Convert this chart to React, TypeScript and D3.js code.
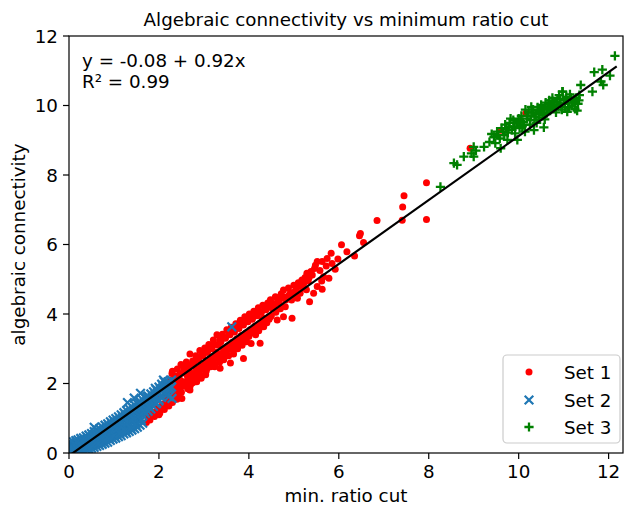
import React from "react";
import * as d3 from "d3";

// ---------- data ----------
const xTicks = [0, 2, 4, 6, 8, 10, 12];
const yTicks = [0, 2, 4, 6, 8, 10, 12];
const fitIntercept = -0.08;
const fitSlope = 0.92;
const fitRange = [0.0, 12.18];
const legendLabels = ["Set 1", "Set 2", "Set 3"];

const set1: [number, number][] = [
  [1.62,1.25],[1.70,1.10],[1.75,1.45],[1.82,1.20],[1.85,1.55],[1.90,1.05],[1.95,1.70],[1.98,1.30],[2.02,1.15],[2.05,1.85],
  [2.08,1.40],[2.12,1.25],[2.15,1.95],[2.18,1.60],[2.22,1.35],[2.25,2.10],[2.28,1.75],[2.29,2.29],[2.37,1.62],[2.35,2.20],
  [1.72,0.88],[1.78,1.05],[1.86,1.12],[1.94,1.18],[2.05,1.28],[2.15,1.45],[2.25,1.50],[2.18,1.38],[1.80,0.95],[2.00,1.10],
  [2.30,1.45],[2.40,1.55],
  [2.30,2.35],[2.33,2.12],[2.28,1.90],[2.34,1.75],[2.31,1.60],
  [2.41,2.42],[2.38,2.20],[2.43,2.00],[2.40,1.82],[2.44,1.66],
  [2.49,2.55],[2.52,2.30],[2.47,2.10],[2.53,1.92],[2.50,1.75],[2.51,1.57],
  [2.61,2.62],[2.58,2.40],[2.63,2.22],[2.60,2.02],[2.64,1.85],
  [2.69,2.85],[2.72,2.55],[2.68,2.35],[2.73,2.15],[2.70,1.95],[2.69,1.81],
  [2.82,2.80],[2.78,2.60],[2.83,2.42],[2.80,2.25],[2.84,2.05],
  [2.91,2.95],[2.88,2.70],[2.93,2.50],[2.90,2.30],[2.94,2.15],
  [3.02,3.02],[2.98,2.80],[3.03,2.60],[3.00,2.42],[3.04,2.25],
  [3.11,3.12],[3.08,2.90],[3.13,2.70],[3.10,2.52],[3.07,2.44],
  [3.21,3.25],[3.18,3.00],[3.23,2.80],[3.20,2.62],[3.24,2.48],
  [3.29,3.40],[3.32,3.10],[3.28,2.90],[3.33,2.72],[3.36,2.44],
  [3.41,3.42],[3.38,3.20],[3.43,3.00],[3.40,2.82],[3.44,2.68],
  [3.51,3.55],[3.48,3.30],[3.53,3.08],[3.50,2.90],[3.59,2.59],
  [3.61,3.62],[3.58,3.40],[3.63,3.18],[3.60,3.00],[3.66,2.85],
  [3.71,3.72],[3.68,3.48],[3.73,3.28],[3.70,3.10],
  [3.81,3.82],[3.78,3.58],[3.83,3.38],[3.81,3.15],[3.88,2.72],
  [3.91,3.92],[3.88,3.68],[3.93,3.45],[3.90,3.28],
  [4.01,4.00],[3.98,3.78],[4.03,3.55],[4.00,3.35],[4.05,3.15],
  [4.11,4.08],[4.08,3.85],[4.13,3.65],[4.10,3.48],
  [4.21,4.18],[4.18,3.95],[4.23,3.72],[4.25,3.16],[4.22,3.52],
  [4.31,4.25],[4.28,4.05],[4.33,3.63],[4.30,3.85],
  [4.42,4.32],[4.38,4.12],[4.44,3.92],[4.40,3.75],
  [4.48,4.41],[4.52,4.16],[4.50,3.95],
  [2.35,1.98],[2.45,2.25],[2.45,1.88],[2.55,2.45],[2.55,2.05],[2.65,2.50],[2.65,2.12],[2.65,1.95],[2.75,2.65],[2.75,2.28],
  [2.75,2.02],[2.85,2.68],[2.85,2.35],[2.85,2.15],[2.95,2.82],[2.95,2.42],[2.95,2.22],[3.05,2.90],[3.05,2.52],[3.05,2.35],
  [3.15,3.00],[3.15,2.62],[3.15,2.48],[3.25,3.12],[3.25,2.72],[3.25,2.55],[3.35,3.25],[3.35,2.85],[3.35,2.62],[3.45,3.32],
  [3.45,2.92],[3.45,2.75],[3.55,3.45],[3.55,3.02],[3.55,2.80],[3.65,3.50],[3.65,3.10],[3.65,2.95],[3.75,3.62],[3.75,3.20],
  [3.75,3.00],[3.85,3.70],[3.85,3.28],[3.85,3.10],[3.95,3.82],[3.95,3.38],[3.95,3.20],[4.05,3.90],[4.05,3.45],[4.15,3.98],
  [4.15,3.58],[4.15,3.40],[4.25,4.05],[4.25,3.62],[4.35,4.15],[4.35,3.75],[4.45,4.22],[4.45,3.85],[4.55,4.30],[4.60,4.05],
  [4.65,4.40],[4.70,4.15],[4.75,4.50],[4.82,4.40],[4.90,4.55],[4.98,4.62],[5.02,4.55],[5.12,4.80],[5.22,4.88],[5.28,4.70],[5.34,5.05],
  [4.77,4.69],[4.92,4.60],[4.70,4.45],[4.59,4.50],[4.81,4.21],[4.55,4.21],[4.37,4.16],[4.96,3.88],[4.77,3.92],[4.63,3.83],
  [4.48,3.92],[4.33,3.88],[5.25,5.05],[5.32,4.95],[5.38,5.22],[5.10,4.90],[5.05,4.70],[4.88,4.75],[4.85,4.50],[4.95,4.40],
  [5.08,4.45],[4.68,4.30],[4.72,4.58],[5.20,4.75],[5.58,5.25],[5.62,4.95],[5.85,5.45],[5.48,5.40],
  [5.18,4.98],[5.00,4.83],[5.14,4.60],[5.52,4.79],[5.63,4.71],[5.44,4.60],[5.35,4.35],
  [5.29,5.17],[5.41,5.12],[5.66,5.07],[5.78,5.03],[5.92,5.29],[5.46,5.31],[5.72,5.38],
  [5.52,5.51],[5.63,5.51],[5.74,5.60],[5.98,5.58],[5.83,5.75],[6.06,5.99],[6.18,5.79],[6.35,5.67],
  [6.55,6.06],[6.48,6.32],[6.46,6.25],[6.85,6.69],[7.41,6.70],[7.42,7.08],[7.45,7.40],[7.95,6.72],[7.95,7.78],
  [8.92,8.77],[9.60,9.29],[10.16,9.78],
];

const set2: [number, number][] = [
  [0.02,0.02],[0.02,0.10],[0.02,0.22],[0.02,0.30],[0.06,0.04],[0.06,0.14],[0.06,0.26],
  [0.10,0.03],[0.10,0.12],[0.10,0.20],[0.10,0.32],[0.15,0.06],[0.15,0.16],[0.15,0.28],[0.15,0.36],
  [0.20,0.05],[0.20,0.15],[0.20,0.25],[0.20,0.38],[0.26,0.08],[0.26,0.20],[0.26,0.31],[0.26,0.42],
  [0.32,0.07],[0.32,0.18],[0.32,0.30],[0.32,0.44],[0.38,0.11],[0.38,0.22],[0.38,0.36],[0.38,0.49],
  [0.44,0.12],[0.44,0.25],[0.44,0.39],[0.44,0.52],[0.50,0.14],[0.50,0.27],[0.50,0.41],[0.50,0.56],
  [0.56,0.16],[0.56,0.31],[0.56,0.46],[0.56,0.62],[0.56,0.74],[0.62,0.19],[0.62,0.33],[0.62,0.49],[0.62,0.66],
  [0.68,0.22],[0.68,0.37],[0.68,0.53],[0.68,0.70],[0.74,0.25],[0.74,0.40],[0.74,0.56],[0.74,0.75],
  [0.80,0.28],[0.80,0.44],[0.80,0.62],[0.80,0.80],[0.86,0.31],[0.86,0.47],[0.86,0.65],[0.86,0.84],
  [0.92,0.36],[0.92,0.52],[0.92,0.70],[0.92,0.90],[0.98,0.40],[0.98,0.56],[0.98,0.75],[0.98,0.95],
  [1.04,0.43],[1.04,0.60],[1.04,0.80],[1.04,0.99],[1.10,0.47],[1.10,0.64],[1.10,0.85],[1.10,1.04],
  [1.16,0.50],[1.16,0.68],[1.16,0.89],[1.16,1.10],[1.22,0.55],[1.22,0.73],[1.22,0.94],[1.22,1.16],
  [1.28,0.58],[1.28,0.78],[1.28,0.99],[1.28,1.22],[1.34,0.62],[1.34,0.82],[1.34,1.04],[1.34,1.27],
  [1.40,0.66],[1.40,0.87],[1.40,1.09],[1.40,1.33],[1.46,0.70],[1.46,0.92],[1.46,1.14],[1.46,1.38],
  [1.52,0.74],[1.52,0.97],[1.52,1.19],[1.52,1.42],[1.58,0.80],[1.58,1.02],[1.58,1.25],[1.58,1.48],
  [1.64,0.86],[1.64,1.08],[1.64,1.30],[1.64,1.53],[1.70,1.14],[1.70,1.36],[1.70,1.58],
  [1.76,1.20],[1.76,1.42],[1.76,1.64],[1.82,1.27],[1.82,1.48],[1.82,1.70],
  [1.88,1.34],[1.88,1.55],[1.88,1.76],[1.94,1.42],[1.94,1.62],[1.94,1.82],
  [2.00,1.50],[2.00,1.70],[2.00,1.90],[2.06,1.60],[2.06,1.80],[2.06,1.98],
  [2.12,1.72],[2.12,1.90],[2.12,2.05],[2.20,1.70],[2.20,1.85],[2.20,2.05],[2.28,1.90],[2.28,2.10],
  [0.04,0.18],[0.08,0.08],[0.12,0.26],[0.18,0.10],[0.18,0.32],[0.23,0.20],[0.29,0.13],[0.29,0.37],[0.35,0.25],[0.41,0.17],
  [0.41,0.44],[0.47,0.32],[0.53,0.21],[0.53,0.50],[0.59,0.38],[0.59,0.56],[0.65,0.27],[0.65,0.58],[0.71,0.45],[0.71,0.62],
  [0.77,0.32],[0.77,0.66],[0.83,0.52],[0.83,0.72],[0.89,0.40],[0.89,0.77],[0.95,0.62],[0.95,0.82],[1.01,0.50],[1.01,0.88],
  [1.07,0.70],[1.07,0.92],[1.13,0.56],[1.13,0.96],[1.19,0.78],[1.19,1.02],[1.25,0.64],[1.25,1.08],[1.31,0.88],[1.31,1.12],
  [1.37,0.72],[1.37,1.18],[1.43,0.98],[1.43,1.22],[1.49,0.82],[1.49,1.28],[1.55,1.08],[1.55,1.32],[1.61,0.95],[1.61,1.40],
  [1.67,1.20],[1.67,1.45],[1.73,1.50],[1.79,1.30],[1.79,1.55],[1.85,1.62],[1.91,1.45],[1.91,1.68],
  [1.97,1.75],[2.03,1.62],[2.03,1.85],[2.09,1.92],[2.15,1.80],[2.17,1.98],
  [1.59,1.72],[1.73,1.62],[1.78,1.33],[1.92,1.86],[1.95,1.43],[2.00,1.53],[2.10,2.10],[2.22,1.62],
  [2.25,1.86],[2.29,1.57],[1.30,1.45],[1.45,1.58],[3.62,3.63],
];

const set3: [number, number][] = [
  [8.26,7.66],[8.56,8.34],[8.63,8.29],[8.78,8.53],[9.00,8.53],[9.00,8.81],[9.23,8.81],[9.45,9.10],[9.60,8.77],[9.75,9.01],
  [9.97,9.01],[10.12,9.44],[10.34,9.29],[10.56,9.37],[8.95,8.62],[9.05,8.70],
  [9.35,8.95],[9.40,9.18],[9.48,8.92],[9.52,9.25],[9.58,9.05],[9.62,9.35],[9.68,9.15],[9.70,9.45],[9.76,9.22],[9.80,9.50],
  [9.85,9.30],[9.88,9.58],[9.92,9.20],[9.95,9.48],[10.00,9.62],[10.02,9.35],[10.06,9.70],[10.10,9.52],[10.14,9.25],[10.18,9.62],
  [10.22,9.80],[10.25,9.45],[10.28,9.70],[10.32,9.88],[10.35,9.58],[10.38,9.75],[10.42,9.95],[10.45,9.65],[10.48,9.82],[10.50,10.02],
  [10.53,9.72],[10.56,9.90],[10.60,10.08],[10.62,9.78],[10.65,9.95],[10.68,10.15],[10.70,9.85],[10.72,10.02],[10.75,10.22],[10.78,9.92],
  [10.80,10.10],[10.83,9.80],[10.86,10.18],[10.88,9.98],[10.90,10.30],[10.93,10.05],[10.96,9.88],[10.98,10.40],[11.00,10.15],[11.03,9.95],
  [11.06,10.25],[11.08,9.82],[11.10,10.08],[11.14,10.32],[11.18,10.00],[11.22,10.16],[11.25,9.90],[11.28,10.22],[11.32,10.05],[11.35,10.30],
  [11.38,10.59],[11.30,9.85],[10.40,9.50],[10.15,9.88],[9.82,9.62],[10.58,9.60],[10.28,9.96],
  [9.55,9.15],[9.65,9.25],[9.72,9.32],[9.78,9.38],[9.90,9.40],[9.98,9.52],[10.04,9.55],[10.08,9.40],[10.20,9.70],[10.26,9.58],
  [10.30,9.80],[10.36,9.68],[10.44,9.85],[10.46,9.75],[10.52,9.92],[10.55,9.80],[10.64,9.88],[10.66,10.05],[10.74,9.95],[10.76,10.12],
  [10.84,10.02],[10.92,10.18],[10.95,9.96],[11.02,10.05],[11.05,10.20],[11.12,9.95],[11.16,10.22],[11.20,10.08],[11.26,10.12],[11.34,10.15],
  [11.64,10.40],[11.68,10.96],[11.83,10.69],[11.86,11.03],[11.88,10.59],[12.03,10.86],[12.14,11.43],[10.97,10.40],
];

// ---------- layout ----------
const W = 625, H = 507;
const L = 69, R = 623, T = 36, B = 453;
const FONT = "DejaVu Sans, sans-serif";
const FS = 18.3;
const RED = "#ff0000", BLUE = "#1f77b4", GREEN = "#008000";

const xs = d3.scaleLinear().domain([0, 12.32]).range([L, R]);
const ys = d3.scaleLinear().domain([0, 12]).range([B, T]);

const XMark = ({ cx, cy, s, c }: { cx: number; cy: number; s: number; c: string }) => (
  <path d={`M${cx - s},${cy - s}L${cx + s},${cy + s}M${cx - s},${cy + s}L${cx + s},${cy - s}`} stroke={c} strokeWidth={2.2} fill="none" />
);
const PMark = ({ cx, cy, s, c }: { cx: number; cy: number; s: number; c: string }) => (
  <path d={`M${cx - s},${cy}L${cx + s},${cy}M${cx},${cy - s}L${cx},${cy + s}`} stroke={c} strokeWidth={2.3} fill="none" />
);

export default function App() {
  const line = d3.line<number>().x((v) => xs(v)).y((v) => ys(fitIntercept + fitSlope * v));
  const legX = 503, legY = 355, legW = 117, legH = 88;
  const rows = [372, 400, 427];
  return (
    <svg width={W} height={H} style={{ position: "absolute", left: 0, top: 0, background: "#fff" }} fontFamily={FONT}>
      <defs>
        <clipPath id="ax">
          <rect x={L} y={T} width={R - L} height={B - T} />
        </clipPath>
      </defs>
      <rect x={0} y={0} width={W} height={H} fill="#fff" />
      <g clipPath="url(#ax)">
        {set1.map(([a, b], i) => (
          <circle key={"r" + i} cx={xs(a)} cy={ys(b)} r={3.5} fill={RED} />
        ))}
        {set2.map(([a, b], i) => (
          <XMark key={"b" + i} cx={xs(a)} cy={ys(b)} s={4.3} c={BLUE} />
        ))}
        {set3.map(([a, b], i) => (
          <PMark key={"g" + i} cx={xs(a)} cy={ys(b)} s={4.6} c={GREEN} />
        ))}
        <path d={line(fitRange) || ""} stroke="#000" strokeWidth={2.2} fill="none" />
      </g>
      <rect x={L} y={T} width={R - L} height={B - T} fill="none" stroke="#000" strokeWidth={1.2} />
      {xTicks.map((t) => (
        <g key={"xt" + t}>
          <line x1={xs(t)} x2={xs(t)} y1={B} y2={B + 6} stroke="#000" strokeWidth={1.2} />
          <text x={xs(t)} y={B + 25} textAnchor="middle" fontSize={FS}>{t}</text>
        </g>
      ))}
      {yTicks.map((t) => (
        <g key={"yt" + t}>
          <line x1={L - 6} x2={L} y1={ys(t)} y2={ys(t)} stroke="#000" strokeWidth={1.2} />
          <text x={L - 11} y={ys(t) + 6.5} textAnchor="end" fontSize={FS}>{t}</text>
        </g>
      ))}
      <text x={(L + R) / 2} y={502} textAnchor="middle" fontSize={FS}>min. ratio cut</text>
      <text transform={`translate(25,${(T + B) / 2}) rotate(-90)`} textAnchor="middle" fontSize={FS}>algebraic connectivity</text>
      <text x={(L + R) / 2} y={26} textAnchor="middle" fontSize={FS}>Algebraic connectivity vs minimum ratio cut</text>
      <text x={82} y={67} fontSize={FS}>y = -0.08 + 0.92x</text>
      <text x={82} y={88} fontSize={FS}>R² = 0.99</text>
      <rect x={legX} y={legY} width={legW} height={legH} rx={4} fill="#fff" fillOpacity={0.8} stroke="#ccc" strokeWidth={1.2} />
      <circle cx={529} cy={rows[0]} r={3.5} fill={RED} />
      <XMark cx={529} cy={rows[1]} s={4.3} c={BLUE} />
      <PMark cx={529} cy={rows[2]} s={4.6} c={GREEN} />
      {legendLabels.map((lab, i) => (
        <text key={lab} x={564} y={rows[i] + 6.5} fontSize={FS}>{lab}</text>
      ))}
    </svg>
  );
}
